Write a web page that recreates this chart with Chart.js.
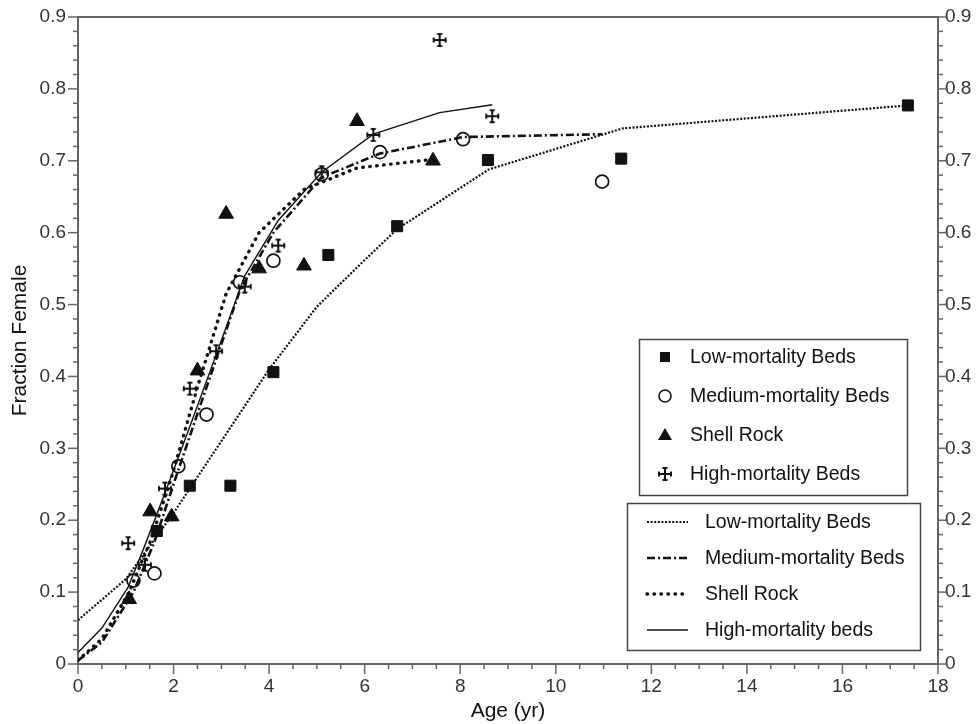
<!DOCTYPE html>
<html>
<head>
<meta charset="utf-8">
<script src="https://cdn.jsdelivr.net/npm/chart.js@4.4.0/dist/chart.umd.min.js"></script>
<style>
  html, body { margin: 0; padding: 0; background: #fff; }
</style>
</head>
<body>
<canvas id="grafico" width="979" height="724"></canvas>
<script>
// observed points (age in years, fraction female)
const lowAge = [1.65, 2.34, 3.19, 4.09, 5.24, 6.68, 8.58, 11.37, 17.37];
const lowFrac = [0.185, 0.248, 0.248, 0.406, 0.569, 0.609, 0.701, 0.703, 0.777];

const medAge = [1.16, 1.60, 2.10, 2.69, 3.39, 4.09, 5.10, 6.32, 8.06, 10.97];
const medFrac = [0.116, 0.126, 0.275, 0.347, 0.531, 0.561, 0.681, 0.712, 0.730, 0.671];

const shellAge = [1.07, 1.51, 1.96, 2.50, 3.10, 3.79, 4.73, 5.84, 7.43];
const shellFrac = [0.090, 0.212, 0.205, 0.408, 0.626, 0.550, 0.554, 0.755, 0.700];

const highAge = [1.05, 1.40, 1.82, 2.34, 2.89, 3.49, 4.19, 5.10, 6.18, 7.57, 8.67];
const highFrac = [0.168, 0.138, 0.244, 0.383, 0.435, 0.525, 0.582, 0.684, 0.736, 0.868, 0.762];

// fitted curves
const lowFitAge = [0, 1, 2, 3, 4, 5, 6, 6.68, 8.6, 11.4, 17.37];
const lowFitFrac = [0.061, 0.118, 0.21, 0.31, 0.41, 0.497, 0.562, 0.605, 0.688, 0.745, 0.777];

const medFitAge = [0, 0.5, 1.16, 1.6, 2.1, 2.69, 3.39, 4.09, 5.1, 6.32, 8.06, 10.97];
const medFitFrac = [0.005, 0.03, 0.1, 0.17, 0.27, 0.385, 0.52, 0.6, 0.677, 0.71, 0.733, 0.737];

const shellFitAge = [0, 0.5, 1.07, 1.51, 1.96, 2.5, 3.1, 3.79, 4.73, 5.84, 7.43];
const shellFitFrac = [0.005, 0.035, 0.1, 0.17, 0.26, 0.385, 0.515, 0.6, 0.66, 0.69, 0.702];

const highFitAge = [0, 0.5, 1.05, 1.4, 1.82, 2.34, 2.89, 3.49, 4.19, 5.1, 6.18, 7.57, 8.67];
const highFitFrac = [0.016, 0.05, 0.107, 0.165, 0.238, 0.33, 0.43, 0.54, 0.617, 0.684, 0.737, 0.767, 0.778];

const pointLabels = ["Low-mortality Beds", "Medium-mortality Beds", "Shell Rock", "High-mortality Beds"];
const lineLabels = ["Low-mortality Beds", "Medium-mortality Beds", "Shell Rock", "High-mortality beds"];

const xTitle = "Age (yr)";
const yTitle = "Fraction Female";

const FONT = "'Liberation Sans', Arial, Helvetica, sans-serif";
const INK = "#111";
const AXIS = "#666";

function pairs(xs, ys) {
    return xs.map((x, i) => ({ x: x, y: ys[i] }));
}

// cross marker with small caps on the arms
function crossImage() {
    const c = document.createElement("canvas");
    c.width = 16; c.height = 16;
    const g = c.getContext("2d");
    g.strokeStyle = INK;
    g.lineWidth = 2;
    g.beginPath();
    g.moveTo(8, 1.5); g.lineTo(8, 14.5);
    g.moveTo(1.5, 8); g.lineTo(14.5, 8);
    g.moveTo(5.5, 2); g.lineTo(10.5, 2);
    g.moveTo(5.5, 14); g.lineTo(10.5, 14);
    g.moveTo(2, 5.5); g.lineTo(2, 10.5);
    g.moveTo(14, 5.5); g.lineTo(14, 10.5);
    g.stroke();
    return c;
}
const cross = crossImage();

const lineStyles = [
    { dash: [2, 1.6], width: 2.2, cap: "butt" },
    { dash: [8, 3, 2, 3], width: 2.6, cap: "butt" },
    { dash: [0.5, 6.5], width: 3.4, cap: "round" },
    { dash: [], width: 1.4, cap: "butt" }
];

function markerSet(label, xs, ys, style, extra) {
    return Object.assign({
        type: "scatter",
        label: label,
        data: pairs(xs, ys),
        showLine: false,
        pointStyle: style,
        pointRadius: 7,
        pointBorderColor: INK,
        pointBackgroundColor: INK,
        pointBorderWidth: 1,
        order: 0
    }, extra || {});
}

function fitSet(label, xs, ys, st) {
    return {
        type: "line",
        label: label,
        data: pairs(xs, ys),
        borderColor: INK,
        borderWidth: st.width,
        borderDash: st.dash,
        borderCapStyle: st.cap,
        pointRadius: 0,
        tension: 0,
        fill: false,
        order: 5
    };
}

function isMajor(v, every) {
    const q = v / every;
    return Math.abs(q - Math.round(q)) < 1e-6;
}

// minor/major ticks and top frame
const tickMarks = {
    id: "tickMarks",
    afterDraw(chart) {
        const ctx = chart.ctx, a = chart.chartArea;
        ctx.save();
        ctx.strokeStyle = AXIS;
        ctx.lineWidth = 1.5;
        ["x", "y", "y2"].forEach(id => {
            const s = chart.scales[id];
            s.ticks.forEach(t => {
                const p = s.getPixelForValue(t.value);
                const len = t.label !== "" ? 10 : 5;
                ctx.beginPath();
                if (id === "x") { ctx.moveTo(p, a.bottom); ctx.lineTo(p, a.bottom + len); }
                else if (id === "y") { ctx.moveTo(a.left, p); ctx.lineTo(a.left - len, p); }
                else { ctx.moveTo(a.right, p); ctx.lineTo(a.right + len, p); }
                ctx.stroke();
            });
        });
        ctx.lineWidth = 2;
        ctx.beginPath();
        ctx.moveTo(a.left - 1, a.top);
        ctx.lineTo(a.right + 1, a.top);
        ctx.stroke();
        ctx.restore();
    }
};

// the two boxed legends
const boxLegends = {
    id: "boxLegends",
    afterDraw(chart) {
        const ctx = chart.ctx;
        ctx.save();
        ctx.strokeStyle = "#444";
        ctx.lineWidth = 1.5;
        ctx.strokeRect(639.5, 339.5, 268, 156);
        ctx.strokeRect(627.5, 503.5, 293, 147);

        ctx.font = "19.5px " + FONT;
        ctx.fillStyle = INK;
        ctx.textBaseline = "middle";
        ctx.textAlign = "left";

        const rows1 = [357, 396, 435, 474];
        pointLabels.forEach((txt, i) => {
            const y = rows1[i], x = 665;
            ctx.fillStyle = INK;
            ctx.strokeStyle = INK;
            ctx.lineWidth = 1.6;
            if (i === 0) {
                ctx.fillRect(x - 5, y - 5, 10, 10);
            } else if (i === 1) {
                ctx.beginPath(); ctx.arc(x, y, 6, 0, Math.PI * 2); ctx.stroke();
            } else if (i === 2) {
                ctx.beginPath(); ctx.moveTo(x, y - 7); ctx.lineTo(x + 7, y + 5); ctx.lineTo(x - 7, y + 5); ctx.closePath(); ctx.fill();
            } else {
                ctx.drawImage(cross, x - 8, y - 8);
            }
            ctx.fillText(txt, 690, y + 1);
        });

        const rows2 = [522, 558, 594, 630];
        lineLabels.forEach((txt, i) => {
            const y = rows2[i], st = lineStyles[i];
            ctx.strokeStyle = INK;
            ctx.lineWidth = st.width;
            ctx.setLineDash(st.dash);
            ctx.lineCap = st.cap;
            ctx.beginPath(); ctx.moveTo(647, y); ctx.lineTo(688, y); ctx.stroke();
            ctx.setLineDash([]);
            ctx.lineCap = "butt";
            ctx.fillText(txt, 705, y + 1);
        });
        ctx.restore();
    }
};

const tickFont = { family: FONT, size: 19 };
const titleFont = { family: FONT, size: 21 };

new Chart(document.getElementById("grafico"), {
    data: {
        datasets: [
            markerSet(pointLabels[0], lowAge, lowFrac, "rect", { pointRadius: 7.8 }),
            markerSet(pointLabels[1], medAge, medFrac, "circle", { pointRadius: 6.5, pointBackgroundColor: "rgba(0,0,0,0)", pointBorderWidth: 1.7 }),
            markerSet(pointLabels[2], shellAge, shellFrac, "triangle", { pointRadius: 8.5 }),
            markerSet(pointLabels[3], highAge, highFrac, cross),
            fitSet(lineLabels[0], lowFitAge, lowFitFrac, lineStyles[0]),
            fitSet(lineLabels[1], medFitAge, medFitFrac, lineStyles[1]),
            fitSet(lineLabels[2], shellFitAge, shellFitFrac, lineStyles[2]),
            fitSet(lineLabels[3], highFitAge, highFitFrac, lineStyles[3])
        ]
    },
    options: {
        responsive: false,
        animation: false,
        layout: { padding: { top: 17, left: 0, right: 0, bottom: 0 } },
        plugins: {
            legend: { display: false },
            tooltip: { enabled: false }
        },
        scales: {
            x: {
                type: "linear",
                position: "bottom",
                min: 0,
                max: 18,
                afterFit: s => { s.height = 60; },
                ticks: {
                    stepSize: 0.5,
                    autoSkip: false,
                    maxRotation: 0,
                    padding: 1,
                    color: "#333",
                    font: tickFont,
                    callback: v => isMajor(v, 2) ? String(Math.round(v)) : ""
                },
                grid: { drawOnChartArea: false, drawTicks: true, tickLength: 10, tickColor: "rgba(0,0,0,0)" },
                border: { color: AXIS, width: 2 },
                title: { display: true, text: xTitle, color: INK, font: titleFont, padding: { top: 0, bottom: 0 } }
            },
            y: {
                type: "linear",
                position: "left",
                min: 0,
                max: 0.9,
                afterFit: s => { s.width = 78; },
                ticks: {
                    stepSize: 0.02,
                    autoSkip: false,
                    padding: 2,
                    color: "#333",
                    font: tickFont,
                    callback: v => isMajor(v, 0.1) ? (Math.abs(v) < 1e-9 ? "0" : v.toFixed(1)) : ""
                },
                grid: { drawOnChartArea: false, drawTicks: true, tickLength: 10, tickColor: "rgba(0,0,0,0)" },
                border: { color: AXIS, width: 2 },
                title: { display: true, text: yTitle, color: INK, font: titleFont, padding: { top: 8, bottom: 0 } }
            },
            y2: {
                type: "linear",
                position: "right",
                min: 0,
                max: 0.9,
                afterFit: s => { s.width = 41; },
                ticks: {
                    stepSize: 0.02,
                    autoSkip: false,
                    padding: 0,
                    color: "#333",
                    font: tickFont,
                    callback: v => isMajor(v, 0.1) ? (Math.abs(v) < 1e-9 ? "0" : v.toFixed(1)) : ""
                },
                grid: { drawOnChartArea: false, drawTicks: true, tickLength: 7, tickColor: "rgba(0,0,0,0)" },
                border: { color: AXIS, width: 2 }
            }
        }
    },
    plugins: [tickMarks, boxLegends]
});
</script>
</body>
</html>
